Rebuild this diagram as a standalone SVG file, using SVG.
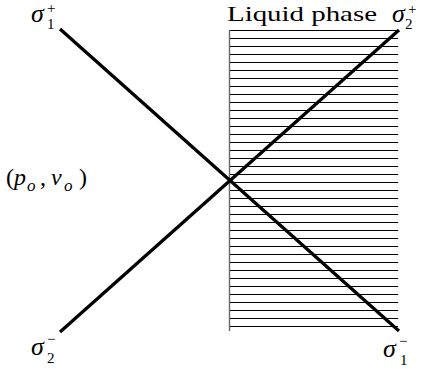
<svg xmlns="http://www.w3.org/2000/svg" width="424" height="369" viewBox="0 0 424 369">
<style>
text{font-family:'Liberation Serif',serif;fill:#000}
.m{font-style:italic;font-size:26px}
.s{font-size:15px}
.h{stroke:#000;stroke-width:1}
.w{stroke:#000;stroke-width:3.3;stroke-linecap:butt;fill:none}
</style>
<defs>
<line id="hl" x1="230" y1="0" x2="398" y2="0" class="h"/>
</defs>
<g id="liquid-phase">
<g id="hatch">
<use href="#hl" y="30.5"/><use href="#hl" y="38.5"/><use href="#hl" y="46.5"/><use href="#hl" y="54.5"/><use href="#hl" y="62.5"/><use href="#hl" y="70.5"/><use href="#hl" y="78.5"/><use href="#hl" y="86.5"/><use href="#hl" y="94.5"/><use href="#hl" y="102.5"/><use href="#hl" y="110.5"/><use href="#hl" y="118.5"/><use href="#hl" y="126.5"/><use href="#hl" y="134.5"/><use href="#hl" y="142.5"/><use href="#hl" y="150.5"/><use href="#hl" y="158.5"/><use href="#hl" y="166.5"/><use href="#hl" y="174.5"/><use href="#hl" y="182.5"/><use href="#hl" y="190.5"/><use href="#hl" y="198.5"/><use href="#hl" y="206.5"/><use href="#hl" y="214.5"/><use href="#hl" y="222.5"/><use href="#hl" y="230.5"/><use href="#hl" y="238.5"/><use href="#hl" y="246.5"/><use href="#hl" y="254.5"/><use href="#hl" y="262.5"/><use href="#hl" y="270.5"/><use href="#hl" y="278.5"/><use href="#hl" y="286.5"/><use href="#hl" y="294.5"/><use href="#hl" y="302.5"/><use href="#hl" y="310.5"/><use href="#hl" y="318.5"/><use href="#hl" y="326.5"/>
</g>
<line x1="229.5" y1="30" x2="229.5" y2="331" stroke="#6a6a6a" stroke-width="1.4"/>
<text x="227" y="21" font-size="21" textLength="150" lengthAdjust="spacingAndGlyphs">Liquid phase</text>
</g>
<g id="sigma1-plus">
<text class="m" x="31" y="22">σ</text>
<text class="s" x="47" y="29">1</text>
<text class="s" x="47" y="13">+</text>
</g>
<g id="sigma2-plus">
<text class="m" x="392" y="22">σ</text>
<text class="s" x="405" y="29">2</text>
<text class="s" x="408" y="14">+</text>
</g>
<g id="sigma2-minus">
<text class="m" x="31" y="355">σ</text>
<text class="s" x="47" y="363">2</text>
<text class="s" x="47" y="344">−</text>
</g>
<g id="sigma1-minus">
<text class="m" x="383" y="357">σ</text>
<text class="s" x="400" y="365">1</text>
<text class="s" x="399" y="346">−</text>
</g>
<g id="state-po-vo">
<text x="7" y="185" font-size="24"><tspan x="6">(</tspan><tspan x="14" font-style="italic">p</tspan><tspan x="27" y="191" font-style="italic" font-size="17">o</tspan><tspan x="40" y="185">,</tspan><tspan x="51" font-style="italic">v</tspan><tspan x="64" y="191" font-style="italic" font-size="17">o</tspan><tspan x="79" y="185">)</tspan></text>
</g>
<g id="connectors">
<line class="w" x1="60" y1="29" x2="399" y2="331"/>
<line class="w" x1="399" y1="30" x2="60" y2="332"/>
</g>
</svg>
